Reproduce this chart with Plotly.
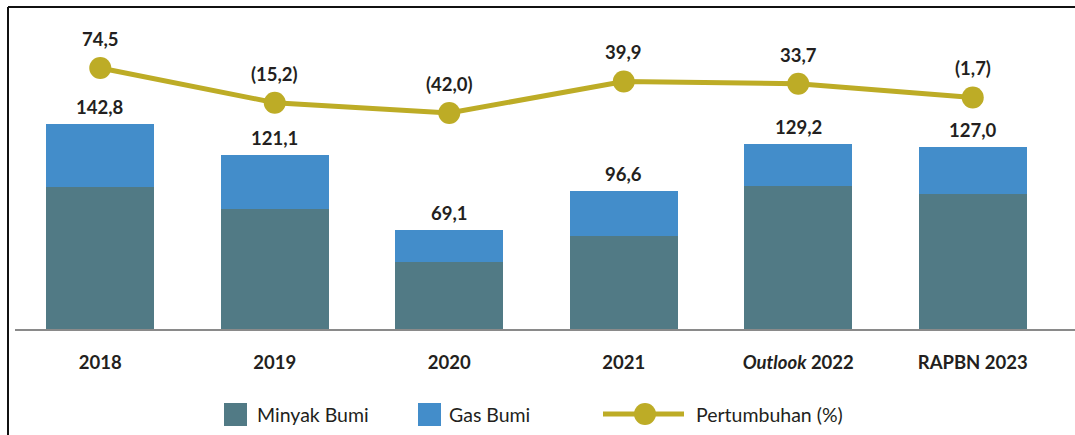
import plotly.graph_objects as go

# ---- data ----
categories = ["2018", "2019", "2020", "2021", "<i>Outlook</i> 2022", "RAPBN 2023"]
minyak_bumi = [99.0, 84.0, 47.0, 65.5, 100.0, 94.5]
gas_bumi = [43.8, 37.1, 22.1, 31.1, 29.2, 32.5]
totals = [142.8, 121.1, 69.1, 96.6, 129.2, 127.0]
pertumbuhan = [74.5, -15.2, -42.0, 39.9, 33.7, -1.7]

# ---- style ----
C_OIL = "#517A85"
C_GAS = "#438DCA"
C_LINE = "#BDAC26"
C_TEXT = "#231F20"
FONT = "Lato"

W, H = 1075, 435
L, R, T, B = 13, 15, 20, 105
PW, PH = W - L - R, H - T - B


def px(x):
    return (x - L) / PW


def py(y):
    return (H - B - y) / PH


def fmt(v):
    s = f"{abs(v):.1f}".replace(".", ",")
    return f"({s})" if v < 0 else s


idx = list(range(len(categories)))

fig = go.Figure()
fig.add_trace(go.Bar(x=idx, y=minyak_bumi, name="Minyak Bumi", width=0.62,
                     marker=dict(color=C_OIL, line=dict(width=0)), showlegend=False))
fig.add_trace(go.Bar(x=idx, y=gas_bumi, name="Gas Bumi", width=0.62,
                     marker=dict(color=C_GAS, line=dict(width=0)), showlegend=False))
fig.add_trace(go.Scatter(x=idx, y=pertumbuhan, name="Pertumbuhan (%)", yaxis="y2",
                         mode="lines+markers", line=dict(color=C_LINE, width=5),
                         marker=dict(color=C_LINE, size=22), showlegend=False))

annotations = []
for i, t in zip(idx, totals):
    annotations.append(dict(x=i, y=t, xref="x", yref="y", text=f"<b>{fmt(t)}</b>",
                            showarrow=False, xanchor="center", yanchor="middle", yshift=17,
                            font=dict(family=FONT, size=18.5, color=C_TEXT)))
for i, g in zip(idx, pertumbuhan):
    annotations.append(dict(x=i, y=g, xref="x", yref="y2", text=f"<b>{fmt(g)}</b>",
                            showarrow=False, xanchor="center", yanchor="middle", yshift=29,
                            font=dict(family=FONT, size=18.5, color=C_TEXT)))

# custom legend
leg_font = dict(family=FONT, size=19.5, color=C_TEXT)
ly = 414.5
annotations += [
    dict(x=px(255), y=py(ly), xref="paper", yref="paper", text="Minyak Bumi", showarrow=False,
         xanchor="left", yanchor="middle", font=leg_font),
    dict(x=px(447), y=py(ly), xref="paper", yref="paper", text="Gas Bumi", showarrow=False,
         xanchor="left", yanchor="middle", font=leg_font),
    dict(x=px(694), y=py(ly), xref="paper", yref="paper", text="Pertumbuhan (%)", showarrow=False,
         xanchor="left", yanchor="middle", font=leg_font),
]

shapes = [
    # frame
    dict(type="line", xref="paper", yref="paper", x0=px(8), x1=px(8), y0=py(440), y1=py(7),
         line=dict(color="#111111", width=2)),
    dict(type="line", xref="paper", yref="paper", x0=px(8), x1=px(1080), y0=py(7), y1=py(7),
         line=dict(color="#111111", width=2)),
    # baseline
    dict(type="line", xref="paper", yref="paper", x0=px(15), x1=px(1080), y0=py(330), y1=py(330),
         line=dict(color="#8A8A8A", width=2)),
    # legend swatches
    dict(type="rect", xref="paper", yref="paper", x0=px(224), x1=px(247), y0=py(426), y1=py(403),
         fillcolor=C_OIL, line=dict(width=0)),
    dict(type="rect", xref="paper", yref="paper", x0=px(418), x1=px(441), y0=py(426), y1=py(403),
         fillcolor=C_GAS, line=dict(width=0)),
    dict(type="line", xref="paper", yref="paper", x0=px(603), x1=px(684), y0=py(414), y1=py(414),
         line=dict(color=C_LINE, width=5)),
    dict(type="circle", xref="paper", yref="paper", x0=px(634), x1=px(656), y0=py(425), y1=py(403),
         fillcolor=C_LINE, line=dict(width=0)),
]

fig.update_layout(
    width=W, height=H, autosize=False,
    margin=dict(l=L, r=R, t=T, b=B, pad=0),
    paper_bgcolor="white", plot_bgcolor="white",
    barmode="stack",
    font=dict(family=FONT, color=C_TEXT),
    xaxis=dict(range=[-0.5, len(categories) - 0.5], tickvals=idx, ticktext=categories,
               showgrid=False, showline=False, zeroline=False, ticks="",
               tickfont=dict(family=FONT, size=18.5, color=C_TEXT, weight="bold"),
               ticklabelstandoff=19, fixedrange=True),
    yaxis=dict(range=[0, 215], visible=False, fixedrange=True),
    yaxis2=dict(range=[-604, 199], overlaying="y", visible=False, fixedrange=True),
    annotations=annotations,
    shapes=shapes,
)

fig.write_html("out.html", config={"displayModeBar": False},
               post_script="document.body.style.margin='0';")
